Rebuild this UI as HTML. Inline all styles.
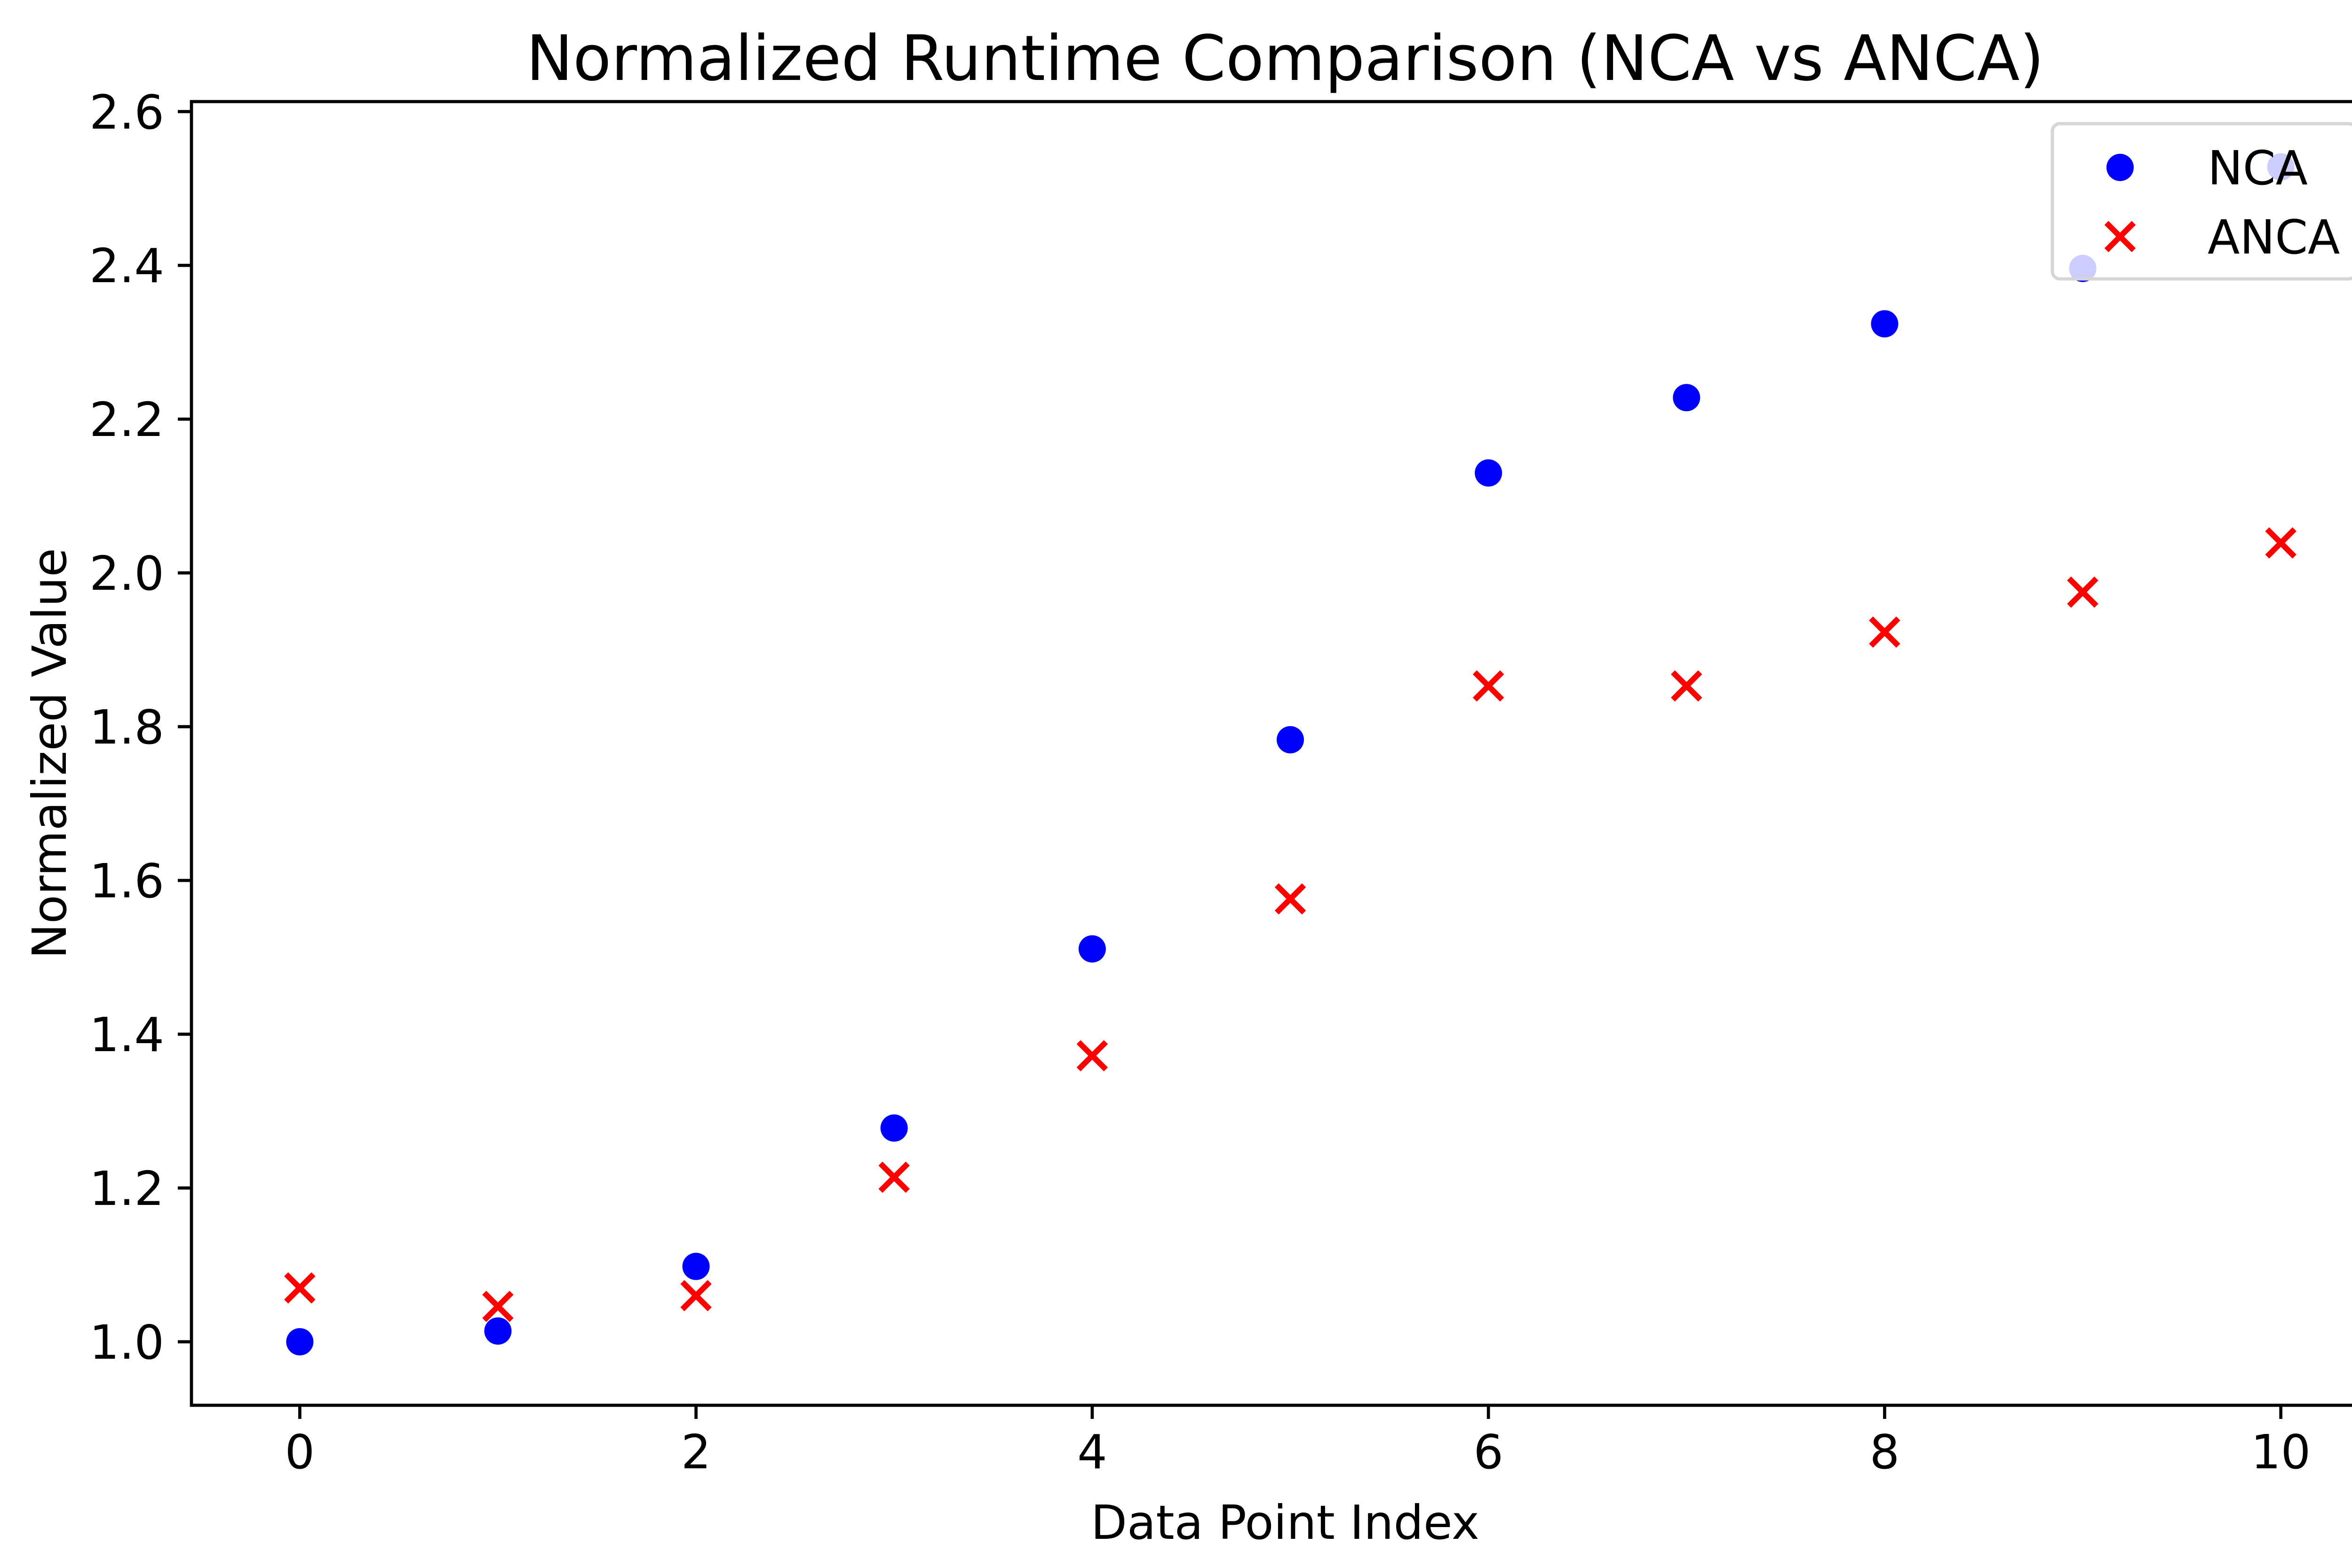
<!DOCTYPE html>
<html><head><meta charset="utf-8"><style>
html,body{margin:0;padding:0;background:#fff;}
svg{display:block;}
text{font-family:"DejaVu Sans","Liberation Sans",sans-serif;fill:#000;}
</style></head><body>
<svg id="chart" width="5121" height="3334" viewBox="0 0 5121 3334" xmlns="http://www.w3.org/2000/svg">
<rect width="5121" height="3334" fill="#fff"/>
<text x="2732" y="170" font-size="133" text-anchor="middle">Normalized Runtime Comparison (NCA vs ANCA)</text>
<g id="marks"></g>
<g id="axes"></g>
<text x="2732" y="3272" font-size="100" text-anchor="middle">Data Point Index</text>
<text transform="translate(140,1602) rotate(-90)" font-size="100" text-anchor="middle">Normalized Value</text>
<g>
<rect x="4363" y="263" width="646" height="330" rx="16" fill="#fff" fill-opacity="0.8" stroke="#d6d6d6" stroke-width="7"/>
<g>
<circle cx="4507" cy="356" r="29" fill="#0000ff"/>
<text x="4693" y="392" font-size="100">NCA</text>
</g>
<g>
<path d="M4478,474L4536,532M4536,474L4478,532" stroke="#ff0000" stroke-width="12"/>
<text x="4693" y="539" font-size="100">ANCA</text>
</g>
</g>
</svg>
<script>
const categories = [0,1,2,3,4,5,6,7,8,9,10];
const ncaValues = [1.0,1.014,1.098,1.278,1.511,1.783,2.130,2.228,2.324,2.396,2.528];
const ancaValues = [1.07,1.046,1.06,1.214,1.372,1.576,1.853,1.853,1.923,1.975,2.039];
const xTicks = [0,2,4,6,8,10];
const yTicks = [1.0,1.2,1.4,1.6,1.8,2.0,2.2,2.4,2.6];
const yTickLabels = ["1.0","1.2","1.4","1.6","1.8","2.0","2.2","2.4","2.6"];

const NS="http://www.w3.org/2000/svg";
const L=407,R=5058,T=216,B=2988;
const xMin=-0.547,xMax=10.497,yMin=0.9174,yMax=2.6130;
function xs(v){return L+(v-xMin)/(xMax-xMin)*(R-L);}
function ys(v){return B-(v-yMin)/(yMax-yMin)*(B-T);}
function mk(tag,attrs,parent){const e=document.createElementNS(NS,tag);for(const k in attrs)e.setAttribute(k,attrs[k]);parent.appendChild(e);return e;}
const marks=document.getElementById('marks');
const axes=document.getElementById('axes');
categories.forEach((c,i)=>{
  const cx=xs(c),cy=ys(ancaValues[i]);
  const p=mk('path',{d:`M${cx-29},${cy-29}L${cx+29},${cy+29}M${cx+29},${cy-29}L${cx-29},${cy+29}`,stroke:'#ff0000','stroke-width':12},marks);
  
  
});
categories.forEach((c,i)=>{
  const e=mk('circle',{cx:xs(c),cy:ys(ncaValues[i]),r:29,fill:'#0000ff'},marks);
  
  
});
const frame=mk('rect',{x:L,y:T,width:R-L,height:B-T,fill:'none',stroke:'#000','stroke-width':6.7},axes);


xTicks.forEach(t=>{
  const x=xs(t);
  const l=mk('line',{x1:x,x2:x,y1:B,y2:B+29,stroke:'#000','stroke-width':6.7},axes);
  
  
  const tx=mk('text',{x:x,y:B+134,'font-size':100,'text-anchor':'middle'},axes);
  tx.textContent=String(t);
  
  
});
yTicks.forEach((t,i)=>{
  const y=ys(t);
  const l=mk('line',{x1:L-29,x2:L,y1:y,y2:y,stroke:'#000','stroke-width':6.7},axes);
  
  
  const tx=mk('text',{x:L-58,y:y+36,'font-size':100,'text-anchor':'end'},axes);
  tx.textContent=yTickLabels[i];
  
  
});
</script>
</body></html>
